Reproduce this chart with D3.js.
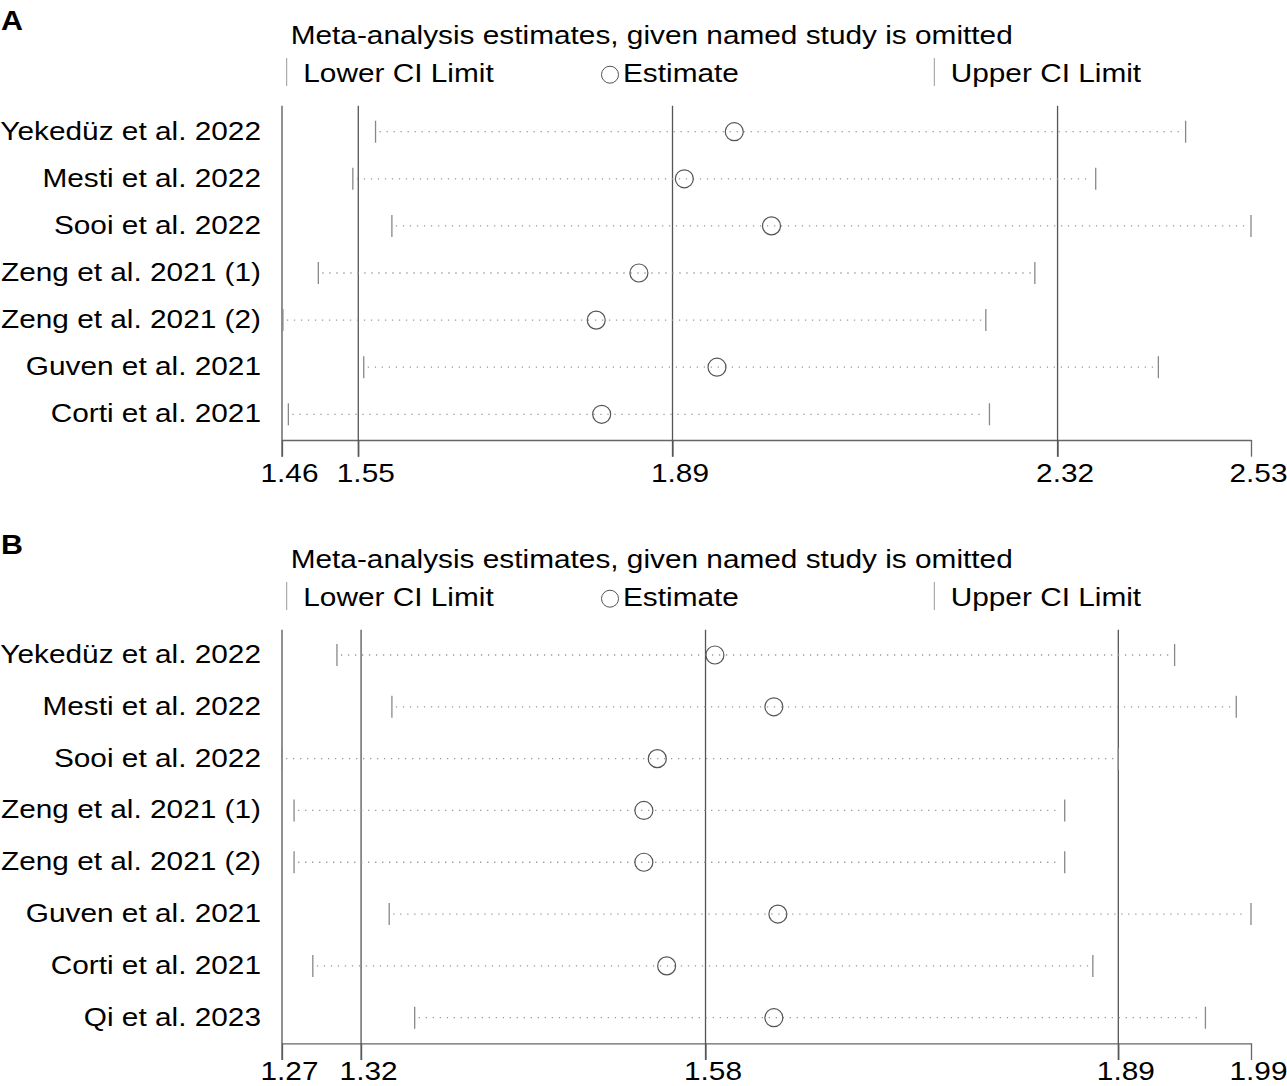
<!DOCTYPE html>
<html>
<head>
<meta charset="utf-8">
<script src="https://cdn.jsdelivr.net/npm/d3@7"></script>
<style>
  html, body { margin: 0; padding: 0; background: #fff; }
  svg { display: block; }
  text { font-family: "Liberation Sans", Arial, sans-serif; fill: #000; }
</style>
</head>
<body>
<div id="chart"></div>
<script>
// ---- data, panel A ----
const studiesA = ["Yekedüz et al. 2022", "Mesti et al. 2022", "Sooi et al. 2022",
  "Zeng et al. 2021 (1)", "Zeng et al. 2021 (2)", "Guven et al. 2021", "Corti et al. 2021"];
const lowerA = [1.567, 1.542, 1.585, 1.504, 1.465, 1.554, 1.471];
const estA   = [1.962, 1.907, 2.003, 1.857, 1.810, 1.943, 1.816];
const upperA = [2.459, 2.360, 2.531, 2.293, 2.239, 2.429, 2.243];
const refA   = [1.548, 1.894, 2.318];              // overall lower CI, estimate, upper CI
const ticksA = [1.464, 1.548, 1.894, 2.318, 2.531];
const tickLabelsA = ["1.46", "1.55", "1.89", "2.32", "2.53"];

// ---- data, panel B ----
const studiesB = ["Yekedüz et al. 2022", "Mesti et al. 2022", "Sooi et al. 2022",
  "Zeng et al. 2021 (1)", "Zeng et al. 2021 (2)", "Guven et al. 2021", "Corti et al. 2021", "Qi et al. 2023"];
const lowerB = [1.307, 1.348, 1.266, 1.275, 1.275, 1.346, 1.289, 1.365];
const estB   = [1.589, 1.633, 1.546, 1.536, 1.536, 1.636, 1.553, 1.633];
const upperB = [1.932, 1.978, 1.890, 1.850, 1.850, 1.989, 1.871, 1.955];
const refB   = [1.325, 1.582, 1.890];
const ticksB = [1.266, 1.325, 1.582, 1.890, 1.989];
const tickLabelsB = ["1.27", "1.32", "1.58", "1.89", "1.99"];

const W = 1287, H = 1086;
const FS = 26.5, SX = 1.125;   // font size and horizontal stretch of the original type
const left = 282, right = 1251;

const svg = d3.select("#chart").append("svg").attr("width", W).attr("height", H);

function label(g, x, y, txt, anchor, extra) {
  const t = g.append("text")
    .attr("transform", `translate(${x},${y}) scale(${SX},1)`)
    .attr("text-anchor", anchor || "start")
    .style("font-size", FS + "px")
    .text(txt);
  if (extra) extra(t);
  return t;
}

function panel(off, letter, studies, lower, est, upper, ref, ticks, tickLabels, rowTop, rowBottom, axisY, pad) {
  const g = svg.append("g").attr("transform", `translate(0,${off})`);
  const x = d3.scaleLinear().domain([ticks[0], ticks[ticks.length - 1]]).range([left, right]);
  const y = d3.scalePoint().domain(studies).range([rowTop, rowBottom]);
  const top = 105.7, tick = 16.7;

  // panel letter
  label(g, 1, 30, letter, "start", t => t.style("font-weight", "bold").style("font-size", "27px"));

  // title + legend
  label(g, 290.7, 44, "Meta-analysis estimates, given named study is omitted");
  g.append("line").attr("x1", 286.7).attr("x2", 286.7).attr("y1", 58).attr("y2", 86)
    .attr("stroke", "#999").attr("stroke-width", 1);
  label(g, 303.3, 82.3, "Lower CI Limit");
  g.append("circle").attr("cx", 610).attr("cy", 74.7).attr("r", 8.5)
    .attr("fill", "none").attr("stroke", "#555").attr("stroke-width", 1);
  label(g, 623, 82.3, "Estimate");
  g.append("line").attr("x1", 934.3).attr("x2", 934.3).attr("y1", 58).attr("y2", 86)
    .attr("stroke", "#999").attr("stroke-width", 1);
  label(g, 950.7, 82.3, "Upper CI Limit");

  // bottom axis
  const ax = g.append("g").attr("transform", `translate(0,${axisY})`)
    .call(d3.axisBottom(x).tickValues(ticks).tickFormat((d, i) => tickLabels[i])
      .tickSize(tick).tickSizeOuter(0).tickPadding(pad));
  ax.select(".domain").attr("stroke", "#666").attr("stroke-width", 1.3);
  ax.selectAll(".tick line").attr("stroke", "#666").attr("stroke-width", 1.3);
  ax.selectAll(".tick text")
    .attr("transform", `scale(${SX},1)`)
    .attr("dx", 7 / SX)
    .style("font-size", FS + "px")
    .style("font-family", '"Liberation Sans", Arial, sans-serif')
    .attr("fill", "#000");

  // left frame line and overall estimate / CI lines
  g.selectAll(".vline").data([ticks[0]].concat(ref)).enter().append("line")
    .attr("x1", d => x(d)).attr("x2", d => x(d))
    .attr("y1", top).attr("y2", axisY + tick)
    .attr("stroke", "#555").attr("stroke-width", 1.3);

  // study labels
  studies.forEach(s => label(g, 261, y(s) + 8, s, "end"));

  const rows = studies.map((s, i) => ({ s, lo: lower[i], est: est[i], hi: upper[i] }));

  // dotted CI lines
  g.selectAll(".ci").data(rows).enter().append("line")
    .attr("x1", d => x(d.lo) + 4).attr("x2", d => x(d.hi) - 4)
    .attr("y1", d => y(d.s)).attr("y2", d => y(d.s))
    .attr("stroke", "#999").attr("stroke-width", 1.3)
    .attr("stroke-dasharray", "1.3 5.7");

  // caps
  ["lo", "hi"].forEach(k => {
    g.selectAll(".cap-" + k).data(rows).enter().append("line")
      .attr("x1", d => x(d[k])).attr("x2", d => x(d[k]))
      .attr("y1", d => y(d.s) - 11).attr("y2", d => y(d.s) + 11)
      .attr("stroke", "#888").attr("stroke-width", 1.3);
  });

  // estimates
  g.selectAll(".est").data(rows).enter().append("circle")
    .attr("cx", d => x(d.est)).attr("cy", d => y(d.s)).attr("r", 9)
    .attr("fill", "none").attr("stroke", "#555").attr("stroke-width", 1.2);
}

panel(0, "A", studiesA, lowerA, estA, upperA, refA, ticksA, tickLabelsA, 131.7, 414.3, 440, 6.5);
panel(524, "B", studiesB, lowerB, estB, upperB, refB, ticksB, tickLabelsB, 655 - 524, 1017.7 - 524, 1043.3 - 524, 1);
</script>
</body>
</html>
